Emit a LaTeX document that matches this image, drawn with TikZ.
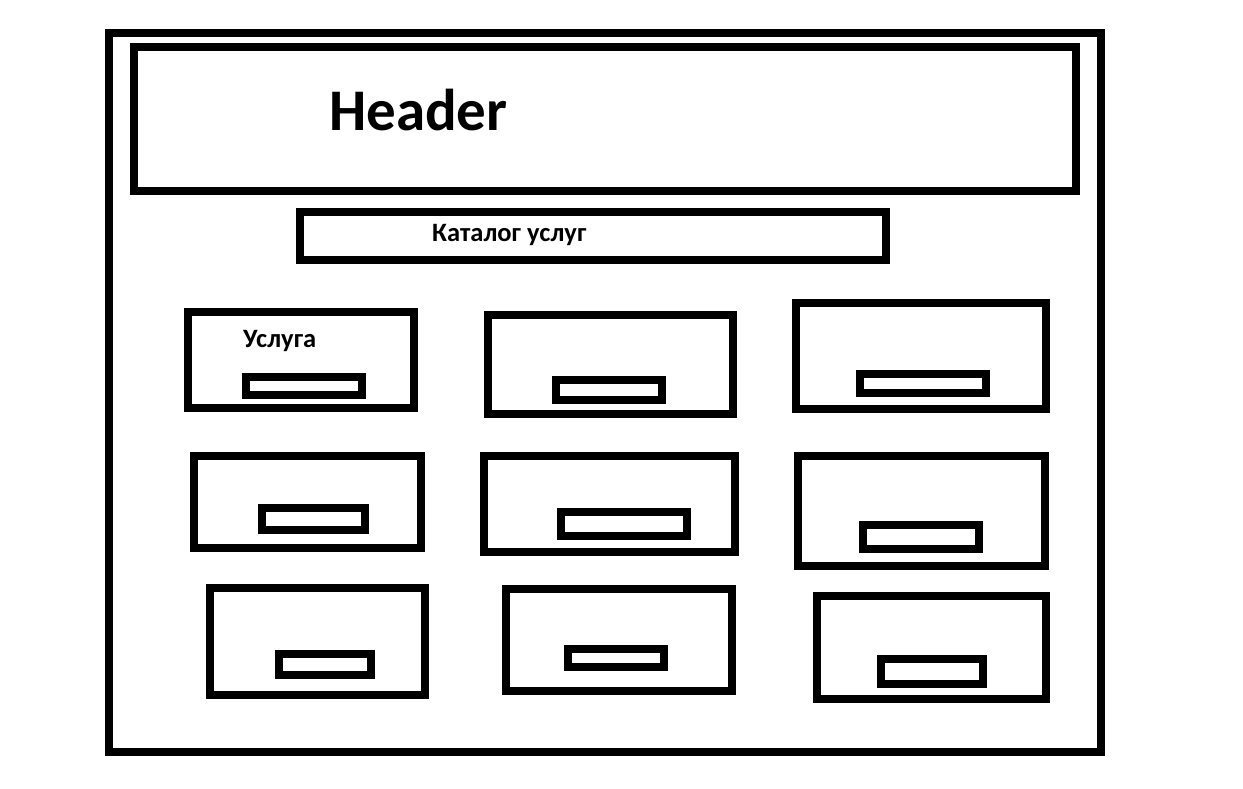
\documentclass[tikz,border=0pt]{standalone}
\usepackage{fontspec}
\setmainfont{Carlito}
\begin{document}
\begin{tikzpicture}[x=1pt,y=-1pt,
  frame/.style={draw=black,line width=8pt},
  btn/.style={draw=black,line width=8pt},
  lbl/.style={inner sep=0pt,anchor=base west,font=\bfseries},
  small/.style={lbl,font=\bfseries\fontsize{26.5}{26.5}\selectfont}]
\useasboundingbox[fill=white] (0,0) rectangle (1243,788);
% outer frame
\draw[frame] (109,33) rectangle (1101,752);
% header
\draw[frame] (134,47) rectangle (1076,191);
\node[lbl,font=\bfseries\fontsize{59}{59}\selectfont] (header) at (329,130) {Header};
% catalog bar
\draw[frame] (300,212) rectangle (886,260);
\node[small] (catalog) at (432,241.5) {Каталог услуг};
% row 1
\draw[frame] (188,312) rectangle (414,408);
\node[small] (usluga) at (243,347) {Услуга};
\draw[btn] (246,377) rectangle (362,395);
\draw[frame] (488,315) rectangle (733,414);
\draw[btn] (556,380) rectangle (662,400);
\draw[frame] (796,303) rectangle (1046,409);
\draw[btn] (860,374) rectangle (986,393);
% row 2
\draw[frame] (194,456) rectangle (421,548);
\draw[btn] (262,508) rectangle (365,530);
\draw[frame] (484,456) rectangle (735,552);
\draw[btn] (561,512) rectangle (687,536);
\draw[frame] (798,456) rectangle (1045,566);
\draw[btn] (863,525) rectangle (979,549);
% row 3
\draw[frame] (210,588) rectangle (425,695);
\draw[btn] (279,654) rectangle (371,675);
\draw[frame] (506,589) rectangle (732,691);
\draw[btn] (568,649) rectangle (664,667);
\draw[frame] (817,596) rectangle (1046,699);
\draw[btn] (881,659) rectangle (983,684);
\end{tikzpicture}
\end{document}
